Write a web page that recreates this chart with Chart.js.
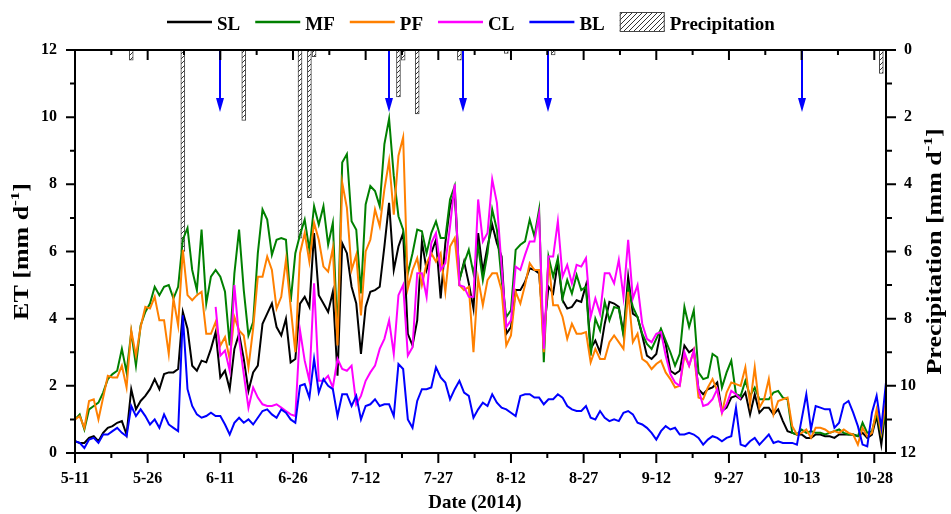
<!DOCTYPE html>
<html>
<head>
<meta charset="utf-8">
<title>ET 2014</title>
<script src="https://cdn.jsdelivr.net/npm/chart.js@4.4.1/dist/chart.umd.min.js"></script>
<style>
    html, body { margin: 0; padding: 0; background: #fff; }
    #wrap { width: 951px; height: 514px; }
</style>
</head>
<body>
<div id="wrap"><canvas id="grafiek"></canvas></div>
<script>
// ===============================
// Data (dag 0 = 5-11, 2014)
// ===============================
const tickDagen = [0, 15.5, 31, 46.5, 62, 77.5, 93, 108.5, 124, 139.5, 155, 170.5];
const tickLabels = ["5-11", "5-26", "6-11", "6-26", "7-12", "7-27", "8-12", "8-27", "9-12", "9-27", "10-13", "10-28"];

const sl = [
    0.35, 0.3, 0.3, 0.45, 0.5, 0.35, 0.6, 0.75, 0.8, 0.9,
    0.95, 0.55, 1.9, 1.3, 1.55, 1.7, 1.9, 2.2, 1.9, 2.35,
    2.4, 2.4, 2.5, 4.2, 3.7, 2.6, 2.45, 2.75, 2.7, 3.1,
    3.6, 2.25, 2.45, 1.9, 3.1, 3.55, 2.8, 1.85, 2.4, 2.6,
    3.85, 4.15, 4.45, 3.75, 3.5, 4.0, 2.7, 2.8, 4.45, 4.65,
    4.35, 6.55, 4.7, 4.45, 4.2, 4.8, 2.3, 6.25, 5.95, 4.95,
    4.45, 2.95, 4.35, 4.8, 4.85, 4.95, 6.15, 7.45, 5.45, 6.15,
    6.55, 3.55, 3.2, 3.95, 6.3, 5.45, 5.95, 6.35, 4.6, 6.25,
    7.35, 7.75, 5.15, 5.7, 5.05, 4.3, 6.55, 5.4, 6.15, 6.8,
    6.25, 5.85, 3.55, 3.75, 4.85, 4.85, 5.1, 5.5, 5.45, 5.35,
    3.55, 4.95, 4.75, 5.7, 4.55, 4.3, 4.35, 4.55, 4.5, 5.0,
    3.1, 3.35, 3.0, 3.85, 4.5, 4.45, 4.35, 3.55, 5.25, 4.15,
    4.05, 3.5, 2.9, 2.8, 2.95, 3.65, 3.25, 2.45, 2.35, 2.45,
    3.2, 3.0, 3.1, 1.9, 1.75, 1.9, 1.95, 2.1, 1.25, 1.35,
    1.65, 1.7, 1.6, 1.8, 1.15, 1.75, 1.2, 1.35, 1.35, 1.15,
    1.3, 0.95, 0.65, 0.6, 0.55, 0.55, 0.45, 0.45, 0.55, 0.55,
    0.5, 0.5, 0.45, 0.55, 0.55, 0.55, 0.55, 0.5, 0.6, 0.45,
    0.55, 1.1, 0.25, 1.4
];

const mf = [
    1.0, 1.15, 0.7, 1.3, 1.4, 1.5, 1.8, 2.2, 2.35, 2.45,
    3.1, 2.4, 3.6, 2.6, 3.8, 4.2, 4.45, 4.95, 4.7, 4.95,
    5.0, 4.6, 4.95, 6.35, 6.7, 5.45, 4.85, 6.65, 4.45, 5.25,
    5.45, 5.25, 4.8, 3.2, 5.35, 6.65, 4.85, 3.5, 3.9, 5.95,
    7.25, 6.95, 5.9, 6.35, 6.4, 6.35, 4.5, 5.95, 6.5, 6.95,
    6.05, 7.35, 6.8, 7.35, 6.2, 6.85, 3.5, 8.65, 8.9, 6.9,
    6.65, 4.75, 7.4, 7.95, 7.8, 7.35, 9.2, 9.95, 8.25, 7.05,
    6.65, 5.35, 5.95, 6.65, 6.6, 5.95, 6.55, 6.9, 6.4, 6.4,
    7.55, 7.95, 5.15, 5.65, 6.05, 5.35, 6.15, 5.15, 5.95, 7.25,
    6.65, 5.15, 4.05, 4.25, 6.05, 6.2, 6.3, 6.95, 6.45, 7.25,
    2.7, 5.85, 5.25, 5.8, 4.6, 5.15, 4.75, 5.3, 4.85, 4.95,
    2.9, 4.0, 3.65, 4.5, 3.95, 4.35, 4.3, 3.5, 4.95, 4.35,
    4.05, 3.55, 3.25, 3.1, 3.4, 3.7, 3.35, 3.0, 2.6, 2.95,
    4.35, 3.75, 4.25, 2.4, 2.2, 2.25, 2.95, 2.85, 1.95, 2.4,
    2.75, 1.75, 1.7, 2.15, 1.7, 1.95, 1.6, 1.6, 1.6, 1.8,
    1.85, 1.65, 1.6, 0.6, 0.55, 0.7, 0.6, 0.65, 0.6, 0.6,
    0.55, 0.6, 0.65, 0.7, 0.6, 0.55, 0.55, 0.5, 0.9, 0.6,
    0.65, 1.2, 0.55, 1.3
];

const pf = [
    1.0, 1.1, 0.75, 1.55, 1.6, 1.0, 1.65, 2.3, 2.25, 2.25,
    2.6, 1.95, 3.65, 2.9, 3.75, 4.35, 4.3, 4.65, 3.95, 3.95,
    2.95, 4.6, 3.8, 6.05, 4.7, 4.55, 4.7, 4.8, 3.55, 3.55,
    3.9, 3.2, 3.45, 2.8, 4.05, 3.65, 3.5, 2.55, 3.7, 5.25,
    5.25, 5.85, 5.45, 4.3, 4.65, 5.75, 4.35, 3.0, 5.95, 6.55,
    5.7, 6.85, 6.35, 5.55, 5.4, 6.1, 3.2, 8.05, 7.3, 5.45,
    5.9, 4.1, 6.0, 6.35, 7.25, 6.75, 7.85, 8.7, 7.1, 8.85,
    9.4, 4.9, 5.45, 5.8, 5.0, 5.65, 5.95, 5.7, 5.95, 4.8,
    6.15, 6.4, 5.0, 4.85, 4.95, 3.0, 5.2, 4.4, 5.15, 5.35,
    5.35, 4.85, 3.2, 3.5, 4.8, 4.45, 5.0, 5.65, 5.45, 5.45,
    3.0, 5.75, 4.4, 4.4, 4.05, 3.4, 3.85, 3.55, 3.55, 3.6,
    2.7, 3.1, 2.8, 2.8, 3.3, 3.5, 3.3, 3.1, 4.8, 3.3,
    3.55, 2.8, 2.7, 2.5, 2.65, 2.75, 2.4, 2.2, 1.95, 2.0,
    2.9, 2.6, 3.05, 1.65, 1.6, 1.95, 2.2, 1.85, 1.2, 1.8,
    2.1, 2.05, 2.0, 2.55, 1.45, 2.55, 1.35, 1.6, 2.2, 1.15,
    1.55, 1.6, 1.65, 0.8, 0.55, 0.6, 0.7, 0.45, 0.75, 0.75,
    0.7, 0.6, 0.65, 0.6, 0.7, 0.6, 0.55, 0.25, 0.75, 0.5,
    0.6, 1.3, 0.6, 1.6
];

// CL begint pas op dag 30 (6-10) en stopt na dag 142
const clEersteDag = 30;
const cl = [
    4.35, 2.9, 3.05, 2.45, 5.0, 3.4, 2.35, 1.35, 1.95, 1.65,
    1.45, 1.4, 1.4, 1.45, 1.35, 1.25, 1.15, 1.1, 3.65, 2.75,
    2.15, 5.05, 2.15, 2.15, 2.3, 1.95, 2.8, 2.5, 2.45, 2.6,
    1.45, 1.7, 2.15, 2.4, 2.6, 3.1, 3.4, 3.95, 2.95, 4.7,
    5.0, 2.9, 3.15, 5.35, 5.35, 4.65, 6.25, 6.55, 5.45, 5.65,
    6.75, 8.0, 5.0, 4.95, 4.65, 4.65, 7.55, 6.3, 6.55, 8.15,
    7.45, 5.55, 3.75, 3.95, 5.55, 5.45, 5.9, 6.3, 6.3, 7.1,
    3.1, 5.85, 5.85, 6.9, 5.25, 5.6, 5.05, 5.6, 5.55, 5.8,
    4.05, 4.6, 4.15, 5.35, 5.35, 5.05, 5.75, 4.65, 6.35, 4.6,
    5.0, 3.85, 3.4, 3.3, 3.55, 3.6, 2.9, 2.35, 2.1, 2.0,
    3.0, 2.6, 3.05, 1.9, 1.4, 1.45, 1.6, 1.9, 1.2, 1.45,
    1.85, 1.75, 1.6
];

const bl = [
    0.35, 0.3, 0.15, 0.4, 0.45, 0.3, 0.55, 0.55, 0.65, 0.75,
    0.6, 0.5, 1.4, 1.1, 1.3, 1.1, 0.85, 1.0, 0.75, 1.15,
    0.85, 0.75, 0.65, 4.1, 1.9, 1.4, 1.15, 1.05, 1.1, 1.2,
    1.1, 1.1, 0.85, 0.55, 0.9, 1.05, 0.9, 1.0, 0.85, 1.05,
    1.25, 1.3, 1.15, 1.05, 1.3, 1.2, 1.0, 0.9, 2.0, 2.05,
    1.65, 2.8, 1.8, 2.2, 2.0, 1.9, 1.1, 1.75, 1.75, 1.4,
    1.7, 1.0, 1.4, 1.45, 1.6, 1.4, 1.45, 1.45, 1.1, 2.65,
    2.5, 1.0, 0.75, 1.55, 1.9, 1.9, 1.95, 2.55, 2.25, 2.1,
    1.6, 1.9, 2.15, 1.8, 1.7, 1.05, 1.3, 1.5, 1.4, 1.75,
    1.5, 1.35, 1.3, 1.2, 1.1, 1.7, 1.75, 1.75, 1.65, 1.65,
    1.45, 1.6, 1.6, 1.75, 1.65, 1.4, 1.3, 1.25, 1.25, 1.4,
    1.05, 1.0, 1.25, 1.05, 0.95, 1.0, 0.95, 1.2, 1.25, 1.15,
    0.9, 0.85, 0.75, 0.6, 0.4, 0.65, 0.8, 0.7, 0.75, 0.55,
    0.55, 0.6, 0.55, 0.45, 0.25, 0.4, 0.5, 0.45, 0.35, 0.45,
    0.5, 1.35, 0.25, 0.2, 0.35, 0.45, 0.25, 0.4, 0.55, 0.3,
    0.35, 0.3, 0.3, 0.3, 0.25, 1.0, 1.75, 0.7, 1.4, 1.35,
    1.3, 1.3, 0.75, 0.9, 1.45, 1.55, 1.2, 0.8, 0.25, 0.2,
    1.2, 1.7, 0.75, 2.1
];

// Neerslag (rechter as, omgekeerd)
const neerslagDagen = [12, 23, 36, 48, 50, 51, 69, 70, 73, 82, 92, 102, 172];
const neerslagMm = [0.3, 6.0, 2.1, 5.6, 4.4, 0.2, 1.4, 0.3, 1.9, 0.3, 0.1, 0.15, 0.7];

// Blauwe pijlen (dagen)
const pijlDagen = [31, 67, 82.7, 101, 155];

// ===============================
// Helpers
// ===============================
const lettertype = '"Liberation Serif", "Times New Roman", serif';

function punten(reeks, start) {
    return reeks.map((v, i) => ({ x: start + i, y: v }));
}

function maakArcering() {
    const c = document.createElement("canvas");
    c.width = 5;
    c.height = 5;
    const g = c.getContext("2d");
    g.fillStyle = "#fff";
    g.fillRect(0, 0, 5, 5);
    g.strokeStyle = "#333";
    g.lineWidth = 1;
    g.beginPath();
    g.moveTo(0, 5); g.lineTo(5, 0);
    g.moveTo(-1, 1); g.lineTo(1, -1);
    g.moveTo(4, 6); g.lineTo(6, 4);
    g.stroke();
    return g.createPattern(c, "repeat");
}
const arcering = maakArcering();

function lijnSet(label, kleur, data) {
    return {
        label: label,
        data: data,
        borderColor: kleur,
        backgroundColor: kleur,
        borderWidth: 2,
        pointRadius: 0,
        tension: 0,
        spanGaps: false,
        yAxisID: "y"
    };
}

// Titel met superscript, gedraaid en iets uitgerekt (zoals in het origineel)
function tekenAsTitel(ctx, cx, cy, hoofd, sup, eind) {
    ctx.save();
    ctx.translate(cx, cy);
    ctx.rotate(-Math.PI / 2);
    ctx.scale(1.3, 1);
    const fGroot = "bold 20px " + lettertype;
    const fKlein = "bold 13px " + lettertype;
    ctx.font = fGroot;
    const w1 = ctx.measureText(hoofd).width;
    const w3 = ctx.measureText(eind).width;
    ctx.font = fKlein;
    const w2 = ctx.measureText(sup).width;
    let x = -(w1 + w2 + w3) / 2;
    ctx.fillStyle = "#000";
    ctx.textBaseline = "alphabetic";
    ctx.textAlign = "left";
    ctx.font = fGroot;
    ctx.fillText(hoofd, x, 6);
    x += w1;
    ctx.font = fKlein;
    ctx.fillText(sup, x, -3);
    x += w2;
    ctx.font = fGroot;
    ctx.fillText(eind, x, 6);
    ctx.restore();
}

// ===============================
// Plugin: kader, ticks, pijlen, legenda, titels
// ===============================
const kaderPlugin = {
    id: "kader",
    afterDatasetsDraw(chart) {
        const ctx = chart.ctx;
        const a = chart.chartArea;
        const sx = chart.scales.x;
        const sy = chart.scales.y;
        const sy2 = chart.scales.y2;
        ctx.save();

        // pijlen
        ctx.strokeStyle = "#0000ff";
        ctx.fillStyle = "#0000ff";
        ctx.lineWidth = 2;
        pijlDagen.forEach(d => {
            const px = Math.round(sx.getPixelForValue(d));
            const punt = a.top + 62;
            ctx.beginPath();
            ctx.moveTo(px, a.top);
            ctx.lineTo(px, punt - 10);
            ctx.stroke();
            ctx.beginPath();
            ctx.moveTo(px - 4, punt - 14);
            ctx.lineTo(px + 4, punt - 14);
            ctx.lineTo(px, punt);
            ctx.closePath();
            ctx.fill();
        });

        // kader
        ctx.strokeStyle = "#000";
        ctx.lineWidth = 2;
        ctx.strokeRect(a.left, a.top, a.right - a.left, a.bottom - a.top);

        // x ticks (onder naar buiten, boven naar binnen)
        ctx.beginPath();
        tickDagen.forEach((d, i) => {
            const px = sx.getPixelForValue(d);
            ctx.moveTo(px, a.bottom); ctx.lineTo(px, a.bottom + 10);
            ctx.moveTo(px, a.top); ctx.lineTo(px, a.top + 10);
            if (i < tickDagen.length - 1) {
                const pm = sx.getPixelForValue((d + tickDagen[i + 1]) / 2);
                ctx.moveTo(pm, a.bottom); ctx.lineTo(pm, a.bottom + 5);
                ctx.moveTo(pm, a.top); ctx.lineTo(pm, a.top + 5);
            }
        });
        // y ticks links en rechts
        for (let v = 0; v <= 12; v++) {
            const lang = v % 2 === 0 ? 9 : 5;
            const py = sy.getPixelForValue(v);
            ctx.moveTo(a.left, py); ctx.lineTo(a.left - lang, py);
            const py2 = sy2.getPixelForValue(v);
            ctx.moveTo(a.right, py2); ctx.lineTo(a.right + lang + 1, py2);
        }
        ctx.stroke();
        ctx.restore();
    },
    afterDraw(chart) {
        const ctx = chart.ctx;
        const a = chart.chartArea;
        ctx.save();

        // legenda
        ctx.font = "bold 19px " + lettertype;
        ctx.textBaseline = "alphabetic";
        ctx.textAlign = "left";
        let lx = 167;
        const ly = 22;
        chart.data.datasets.forEach(ds => {
            if (ds.type === "bar") {
                ctx.fillStyle = arcering;
                ctx.fillRect(lx, ly - 10, 45, 20);
                ctx.strokeStyle = "#444";
                ctx.lineWidth = 1;
                ctx.strokeRect(lx + 0.5, ly - 9.5, 44, 19);
            } else {
                ctx.strokeStyle = ds.borderColor;
                ctx.lineWidth = 2.5;
                ctx.beginPath();
                ctx.moveTo(lx, ly);
                ctx.lineTo(lx + 45, ly);
                ctx.stroke();
            }
            ctx.fillStyle = "#000";
            ctx.fillText(ds.label, lx + 50, 30);
            lx += 50 + ctx.measureText(ds.label).width + 15;
        });

        // as titels
        ctx.font = "bold 19px " + lettertype;
        ctx.textAlign = "center";
        ctx.fillText("Date (2014)", 475, 508);
        const midden = (a.top + a.bottom) / 2;
        tekenAsTitel(ctx, 22, midden, "ET [mm d", "-1", "]");
        tekenAsTitel(ctx, 935, midden, "Precipitation [mm d", "-1", "]");
        ctx.restore();
    }
};

// ===============================
// Grafiek
// ===============================
const tickFont = { family: lettertype, size: 16, weight: "bold" };

new Chart(document.getElementById("grafiek").getContext("2d"), {
    type: "line",
    data: {
        datasets: [
            Object.assign(lijnSet("SL", "#000000", punten(sl, 0)), { order: 5 }),
            Object.assign(lijnSet("MF", "#008000", punten(mf, 0)), { order: 4 }),
            Object.assign(lijnSet("PF", "#ff8000", punten(pf, 0)), { order: 3 }),
            Object.assign(lijnSet("CL", "#ff00ff", punten(cl, clEersteDag)), { order: 2 }),
            Object.assign(lijnSet("BL", "#0000ff", punten(bl, 0)), { order: 1 }),
            {
                type: "bar",
                label: "Precipitation",
                data: neerslagDagen.map((d, i) => ({ x: d, y: neerslagMm[i] })),
                backgroundColor: arcering,
                borderColor: "#444",
                borderWidth: 1,
                borderSkipped: false,
                barThickness: 4,
                yAxisID: "y2",
                order: 6
            }
        ]
    },
    options: {
        responsive: true,
        maintainAspectRatio: false,
        animation: false,
        layout: { padding: { top: 50, left: 0, right: 0, bottom: 0 } },
        plugins: {
            legend: { display: false },
            tooltip: { enabled: false }
        },
        scales: {
            x: {
                type: "linear",
                min: 0,
                max: 173,
                offset: false,
                grid: { display: false, drawTicks: false },
                border: { display: false },
                afterBuildTicks: (s) => { s.ticks = tickDagen.map(v => ({ value: v })); },
                afterFit: (s) => { s.height = 61; },
                ticks: {
                    autoSkip: false,
                    maxRotation: 0,
                    padding: 16,
                    color: "#000",
                    font: tickFont,
                    callback: (v, i) => tickLabels[i]
                }
            },
            y: {
                position: "left",
                min: 0,
                max: 12,
                grid: { display: false, drawTicks: false },
                border: { display: false },
                afterFit: (s) => { s.width = 75; },
                ticks: { stepSize: 2, padding: 18, color: "#000", font: tickFont }
            },
            y2: {
                position: "right",
                min: 0,
                max: 12,
                reverse: true,
                grid: { display: false, drawTicks: false },
                border: { display: false },
                afterFit: (s) => { s.width = 65; },
                ticks: { stepSize: 2, padding: 14, crossAlign: "center", color: "#000", font: tickFont }
            }
        }
    },
    plugins: [kaderPlugin]
});
</script>
</body>
</html>
